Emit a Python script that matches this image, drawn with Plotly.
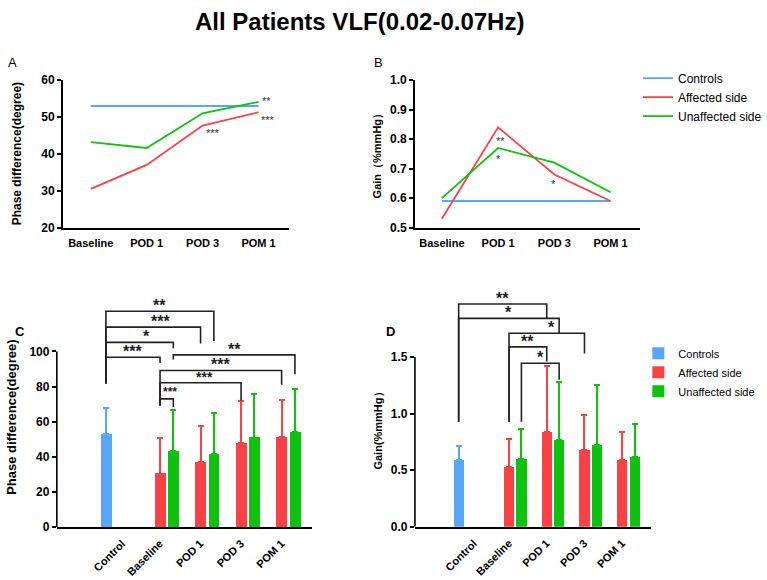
import plotly.graph_objects as go

W, H = 767, 580

# ---------------- data ----------------
TIMEPOINTS = ["Baseline", "POD 1", "POD 3", "POM 1"]
BAR_CATS = ["Control", "Baseline", "POD 1", "POD 3", "POM 1"]
SERIES = ["Controls", "Affected side", "Unaffected side"]

PHASE_CONTROL_MEAN = 53.0
PHASE_CONTROL_SD = 15.0
PHASE_AFFECTED_MEAN = [30.5, 37.0, 47.7, 51.3]
PHASE_AFFECTED_SD = [20.2, 20.6, 23.9, 20.8]
PHASE_UNAFFECTED_MEAN = [43.2, 41.6, 51.0, 54.1]
PHASE_UNAFFECTED_SD = [23.7, 23.6, 24.8, 24.3]

GAIN_CONTROL_MEAN = 0.59
GAIN_CONTROL_SD = 0.12
GAIN_AFFECTED_MEAN = [0.53, 0.84, 0.68, 0.59]
GAIN_AFFECTED_SD = [0.25, 0.58, 0.31, 0.245]
GAIN_UNAFFECTED_MEAN = [0.60, 0.77, 0.72, 0.62]
GAIN_UNAFFECTED_SD = [0.265, 0.51, 0.535, 0.285]

PHASE_TICKS = [20, 30, 40, 50, 60]
GAIN_TICKS = [0.5, 0.6, 0.7, 0.8, 0.9, 1.0]
PHASE_BAR_TICKS = [0, 20, 40, 60, 80, 100]
GAIN_BAR_TICKS = [0.0, 0.5, 1.0, 1.5]

# significance marks in line panels: (timepoint, value, label)
A_MARKS = [("POM 1", 55.2, "**"), ("POM 1", 49.9, "***"), ("POD 3", 46.5, "***")]
B_MARKS = [("POD 1", 0.805, "**"), ("POD 1", 0.744, "*"), ("POD 3", 0.658, "*")]

# brackets: (left bar, right bar, height, left-leg end, right-leg end, label)
C_BRACKETS = [
    (("Control", "C"), ("POD 1", "U"), 122.9, 81.8, 106.0, "**"),
    (("Control", "C"), ("POD 1", "A"), 113.9, 81.8, 104.6, "***"),
    (("Control", "C"), ("Baseline", "U"), 105.2, 81.8, 101.9, "*"),
    (("Control", "C"), ("Baseline", "A"), 96.7, 81.8, 93.5, "***"),
    (("Baseline", "U"), ("POM 1", "U"), 98.1, 95.4, 87.0, "**"),
    (("Baseline", "A"), ("POM 1", "A"), 89.2, 69.3, 81.0, "***"),
    (("Baseline", "A"), ("POD 3", "A"), 82.2, 69.3, 72.1, "***"),
    (("Baseline", "A"), ("Baseline", "U"), 73.0, 69.3, 68.4, "***"),
]
D_BRACKETS = [
    (("Control", "C"), ("POD 1", "A"), 1.969, 0.928, 1.842, "**"),
    (("Control", "C"), ("POD 1", "U"), 1.842, 0.928, 1.71, "*"),
    (("Baseline", "A"), ("POD 3", "A"), 1.71, 0.928, 1.532, "*"),
    (("Baseline", "A"), ("POD 1", "A"), 1.59, 0.928, 1.46, "**"),
    (("Baseline", "U"), ("POD 1", "U"), 1.446, 0.928, 1.30, "*"),
]

# ---------------- style ----------------
BLUE = "#58A6F8"
RED = "#F94246"
GREEN = "#0EC20E"
FONT = "Liberation Sans, Arial, sans-serif"
GROUP_START = 1.5
PAIR_OFF = 0.164
BAR_W = 0.27


def px_x(px):
    return px / W


def px_y(py):
    return 1 - py / H


def bar_x(key):
    cat, side = key
    if cat == "Control":
        return 0.0
    base = GROUP_START + TIMEPOINTS.index(cat)
    return base - PAIR_OFF if side == "A" else base + PAIR_OFF


fig = go.Figure()

# ---------------- Panel A & B (lines) ----------------
tp_idx = list(range(len(TIMEPOINTS)))
for xa, ya, ctrl, aff, unaff, show in [
    ("x", "y", PHASE_CONTROL_MEAN, PHASE_AFFECTED_MEAN, PHASE_UNAFFECTED_MEAN, False),
    ("x2", "y2", GAIN_CONTROL_MEAN, GAIN_AFFECTED_MEAN, GAIN_UNAFFECTED_MEAN, True),
]:
    fig.add_trace(go.Scatter(x=tp_idx, y=[ctrl] * len(TIMEPOINTS), mode="lines",
                             line=dict(color=BLUE, width=1.8), name=SERIES[0],
                             xaxis=xa, yaxis=ya, showlegend=show, legend="legend"))
    fig.add_trace(go.Scatter(x=tp_idx, y=aff, mode="lines",
                             line=dict(color=RED, width=1.8), name=SERIES[1],
                             xaxis=xa, yaxis=ya, showlegend=show, legend="legend"))
    fig.add_trace(go.Scatter(x=tp_idx, y=unaff, mode="lines",
                             line=dict(color=GREEN, width=1.8), name=SERIES[2],
                             xaxis=xa, yaxis=ya, showlegend=show, legend="legend"))

# ---------------- Panel C & D (bars) ----------------
for xa, ya, cm, csd, am, asd, um, usd, show in [
    ("x3", "y3", PHASE_CONTROL_MEAN, PHASE_CONTROL_SD, PHASE_AFFECTED_MEAN, PHASE_AFFECTED_SD,
     PHASE_UNAFFECTED_MEAN, PHASE_UNAFFECTED_SD, False),
    ("x4", "y4", GAIN_CONTROL_MEAN, GAIN_CONTROL_SD, GAIN_AFFECTED_MEAN, GAIN_AFFECTED_SD,
     GAIN_UNAFFECTED_MEAN, GAIN_UNAFFECTED_SD, True),
]:
    specs = [
        (SERIES[0], [("Control", "C")], [cm], [csd], BLUE),
        (SERIES[1], [(t, "A") for t in TIMEPOINTS], am, asd, RED),
        (SERIES[2], [(t, "U") for t in TIMEPOINTS], um, usd, GREEN),
    ]
    for name, keys, means, sds, col in specs:
        fig.add_trace(go.Bar(
            x=[bar_x(k) for k in keys], y=means, width=BAR_W, name=name,
            marker=dict(color=col, line=dict(width=0)),
            error_y=dict(type="data", array=sds, arrayminus=[0] * len(sds), symmetric=False,
                         color=col, thickness=2, width=3),
            xaxis=xa, yaxis=ya, showlegend=show, legend="legend2"))

shapes = []
annotations = []


def add_brackets(brackets, xref, yref, fs_list, dx_list):
    for (l, r, h, lb, rb, lab), fs, dx in zip(brackets, fs_list, dx_list):
        x1, x2 = bar_x(l), bar_x(r)
        shapes.append(dict(type="path", xref=xref, yref=yref,
                           path=f"M {x1},{lb} L {x1},{h} L {x2},{h} L {x2},{rb}",
                           line=dict(color="#222222", width=1.6)))
        annotations.append(dict(x=(x1 + x2) / 2, y=h, xref=xref, yref=yref, text=lab,
                                showarrow=False, xshift=dx, yshift=10 - 0.27 * fs,
                                font=dict(size=fs, color="#222222", family=FONT, weight="bold")))


add_brackets(C_BRACKETS, "x3", "y3", [16, 16, 16, 16, 16, 16, 14, 12], [0, 7, 7, 0, 0, 0, 4, 3])
add_brackets(D_BRACKETS, "x4", "y4", [16, 16, 16, 16, 16], [0, 0, 5, 0, 0])

# y axis lines of bar panels only up to the top tick
shapes.append(dict(type="line", xref="x3 domain", yref="y3", x0=0, x1=0, y0=0, y1=PHASE_BAR_TICKS[-1],
                   line=dict(color="black", width=1.6)))
shapes.append(dict(type="line", xref="x4 domain", yref="y4", x0=0, x1=0, y0=0, y1=GAIN_BAR_TICKS[-1],
                   line=dict(color="black", width=1.6)))

# significance marks on line panels
for marks, xa, ya, dxs in [(A_MARKS, "x", "y", [8, 10, 10]), (B_MARKS, "x2", "y2", [2, 0, -1])]:
    for (tp, v, lab), dx in zip(marks, dxs):
        annotations.append(dict(x=TIMEPOINTS.index(tp), y=v, xref=xa, yref=ya, text=lab,
                                showarrow=False, xshift=dx, yshift=-3,
                                font=dict(size=11, color="#333333", family=FONT)))


def text_ann(txt, px, py, size, bold=True, angle=0, color="black"):
    annotations.append(dict(x=px_x(px), y=px_y(py), xref="paper", yref="paper", text=txt,
                            showarrow=False, textangle=angle, xanchor="center", yanchor="middle",
                            font=dict(size=size, color=color, family=FONT,
                                      weight="bold" if bold else "normal")))


text_ann("All Patients VLF(0.02-0.07Hz)", 360, 15, 24)
text_ann("A", 13, 57, 13, bold=False)
text_ann("B", 379, 57, 13, bold=False)
text_ann("C", 20, 333, 13)
text_ann("D", 392, 333, 13)
text_ann("Phase difference(degree)", 17, 150, 12, angle=-90)
text_ann("Gain（%mmHg）", 378, 150, 11, angle=-90)
text_ann("Phase difference(degree)", 12, 420, 13, angle=-90)
text_ann("Gain(%mmHg）", 380, 432, 11, angle=-90)

tickfont_b = dict(size=12, color="black", family=FONT, weight="bold")
xtickfont_b = dict(size=11, color="black", family=FONT, weight="bold")
common_y = dict(showline=True, linecolor="black", linewidth=1.6, ticks="outside", ticklen=4,
                tickwidth=1.6, tickcolor="black", showgrid=False, zeroline=False, tickfont=tickfont_b)
common_x = dict(showline=True, linecolor="black", linewidth=1.6, ticks="outside", ticklen=4,
                tickcolor="rgba(0,0,0,0)", showgrid=False, zeroline=False, tickfont=xtickfont_b)

ctrl_label_shift = 0.4
tp_label_shift = -0.17
bar_tickvals = [ctrl_label_shift] + [GROUP_START + i + tp_label_shift for i in range(len(TIMEPOINTS))]

fig.update_layout(
    width=W, height=H, margin=dict(l=0, r=0, t=0, b=0),
    paper_bgcolor="white", plot_bgcolor="white",
    font=dict(family=FONT, color="black"),
    barmode="overlay", bargap=0,
    xaxis=dict(domain=[px_x(63), px_x(290)], range=[-0.5, 3.55], tickvals=tp_idx,
               ticktext=TIMEPOINTS, anchor="y", **common_x),
    yaxis=dict(domain=[px_y(226), px_y(75)], range=[20, 60], tickvals=PHASE_TICKS,
               anchor="x", **common_y),
    xaxis2=dict(domain=[px_x(416), px_x(642)], range=[-0.48, 3.53], tickvals=tp_idx,
                ticktext=TIMEPOINTS, anchor="y2", **common_x),
    yaxis2=dict(domain=[px_y(226), px_y(75)], range=[0.5, 1.0], tickvals=GAIN_TICKS,
                tickformat=".1f", anchor="x2", **common_y),
    xaxis3=dict(domain=[px_x(57), px_x(313)], range=[-1.21, 5.09], tickvals=bar_tickvals,
                ticktext=BAR_CATS, tickangle=-45, anchor="y3", **common_x),
    yaxis3=dict(domain=[px_y(533), px_y(283)], range=[0, 138.9], tickvals=PHASE_BAR_TICKS,
                anchor="x3", **{**common_y, "showline": False}),
    xaxis4=dict(domain=[px_x(416), px_x(652.7)], range=[-1.16, 5.1], tickvals=bar_tickvals,
                ticktext=BAR_CATS, tickangle=-45, anchor="y4", **common_x),
    yaxis4=dict(domain=[px_y(532.7), px_y(283)], range=[0, 2.153], tickvals=GAIN_BAR_TICKS,
                tickformat=".1f", anchor="x4", **{**common_y, "showline": False}),
    legend=dict(x=px_x(640), y=px_y(58), xanchor="left", yanchor="top",
                bgcolor="rgba(0,0,0,0)", font=dict(size=12, family=FONT, color="black")),
    legend2=dict(x=px_x(640), y=px_y(340), xanchor="left", yanchor="top",
                 bgcolor="rgba(0,0,0,0)", font=dict(size=11, family=FONT, color="black")),
    shapes=shapes,
    annotations=annotations,
)

fig.write_html("out.html")
